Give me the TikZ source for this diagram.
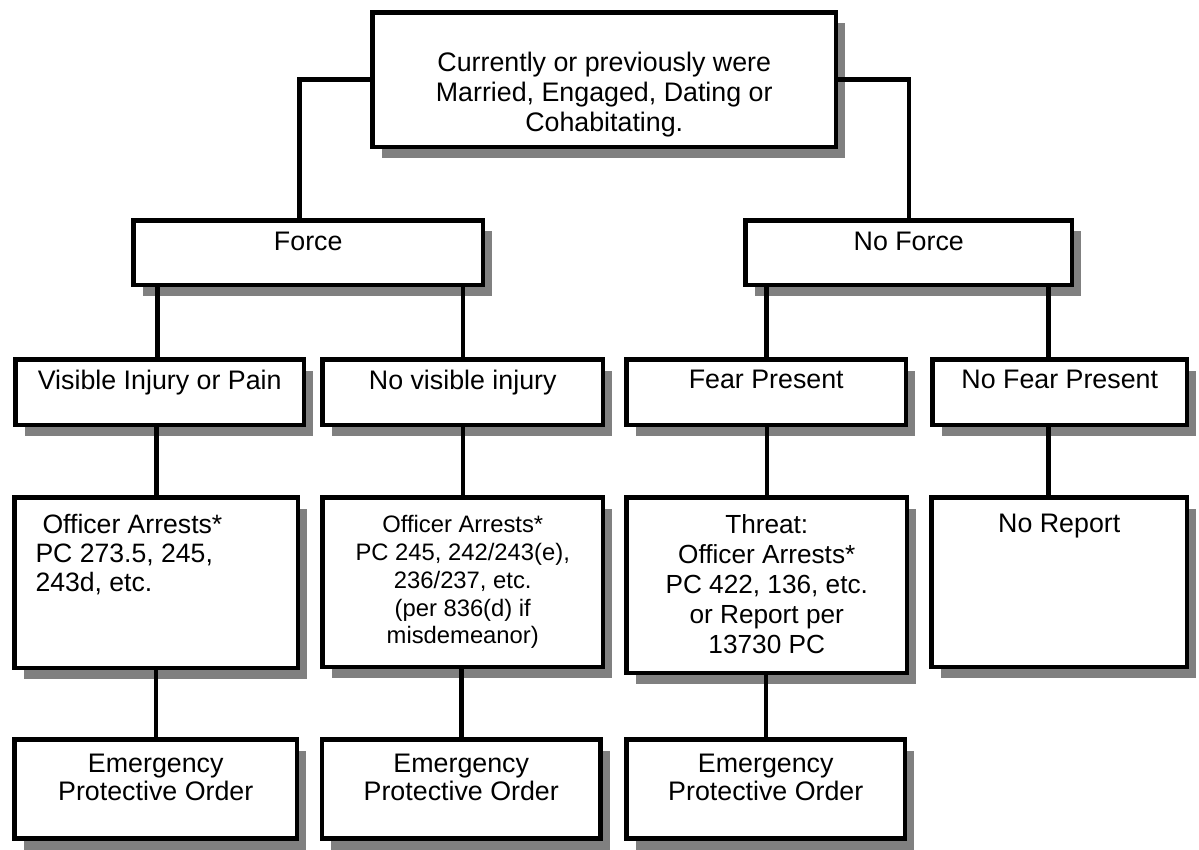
\documentclass[tikz,border=0pt]{standalone}
\usepackage{fontspec}
\setmainfont{Liberation Sans}
\usetikzlibrary{shadows}

\newlength{\du}
\setlength{\du}{0.5pt}
% width, height, top gap, text
\newcommand{\cellbox}[4]{\parbox[t][#2\du][t]{#1\du}{\centering\vspace*{#3\du}#4}}

\tikzset{
  chartbox/.style={draw, line width=2.25pt, fill=white, inner sep=0pt, anchor=north west,
    drop shadow={shadow xshift=4.5pt, shadow yshift=-5.5pt, fill=black!50, opacity=1},
    font=\fontsize{13.4}{15}\selectfont},
  link/.style={line width=2.25pt}
}

\begin{document}
\begin{tikzpicture}
\useasboundingbox (0,0) rectangle (1199\du,-850\du);
% relationship
\node[chartbox] (rel) at (370.25\du,-10.25\du) {\cellbox{463.5}{134.5}{40}{Currently or previously were\\Married, Engaged, Dating or\\Cohabitating.}};
\node[chartbox] (force) at (131.25\du,-218.25\du) {\cellbox{349.5}{64.5}{12}{Force}};
\node[chartbox] (noforce) at (743.25\du,-218.25\du) {\cellbox{326.5}{64.5}{12}{No Force}};
% injury / fear
\node[chartbox] (vis) at (13.25\du,-357.25\du) {\cellbox{288.5}{65.5}{11}{Visible Injury or Pain}};
\node[chartbox] (novis) at (320.25\du,-357.25\du) {\cellbox{280.5}{65.5}{11}{No visible injury}};
\node[chartbox] (fear) at (624.25\du,-357.25\du) {\cellbox{279.5}{65.5}{11}{Fear Present}};
\node[chartbox] (nofear) at (930.25\du,-357.25\du) {\cellbox{254.5}{65.5}{11}{No Fear Present}};
% officer action
\node[chartbox, font=\fontsize{13.3}{14.5}\selectfont] (arrA) at (12.25\du,-495.25\du) {\cellbox{283.5}{170.5}{17}{\raggedright\leftskip=21\du\hspace*{7\du}Officer Arrests*\\PC 273.5, 245,\\243d, etc.}};
\node[chartbox, font=\fontsize{11.9}{13.9}\selectfont] (arrB) at (320.25\du,-495.25\du) {\cellbox{280.5}{169.5}{18}{Officer Arrests*\\PC 245, 242/243(e),\\236/237, etc.\\(per 836(d) if\\misdemeanor)}};
\node[chartbox, font=\fontsize{13.1}{15}\selectfont] (threat) at (624.25\du,-495.25\du) {\cellbox{280.5}{175.5}{17}{Threat:\\Officer Arrests*\\PC 422, 136, etc.\\or Report per\\13730 PC}};
\node[chartbox] (noreport) at (929.25\du,-495.25\du) {\cellbox{255.5}{169.5}{17}{No Report}};
% protective orders
\node[chartbox, font=\fontsize{13.4}{14}\selectfont] (epoA) at (12.25\du,-737.25\du) {\cellbox{282.5}{99}{15}{Emergency\\Protective Order}};
\node[chartbox, font=\fontsize{13.4}{14}\selectfont] (epoB) at (319.75\du,-737.25\du) {\cellbox{278.5}{99}{15}{Emergency\\Protective Order}};
\node[chartbox, font=\fontsize{13.4}{14}\selectfont] (epoC) at (624.25\du,-737.25\du) {\cellbox{278.5}{99}{15}{Emergency\\Protective Order}};

\draw[link] (rel.west) -| ([xshift=-9\du]force.north);
\draw[link] (rel.east) -| (noforce.north);
\draw[link] ([xshift=-2.5\du]vis.north) -- ([xshift=-2.5\du]vis.north |- force.south);
\draw[link] (novis.north) -- (novis.north |- force.south);
\draw[link] (fear.north) -- (fear.north |- noforce.south);
\draw[link] ([xshift=-11.5\du]nofear.north) -- ([xshift=-11.5\du]nofear.north |- noforce.south);
\draw[link] (arrA.north) -- (arrA.north |- vis.south);
\draw[link] (arrB.north) -- (arrB.north |- novis.south);
\draw[link] (threat.north) -- (threat.north |- fear.south);
\draw[link] ([xshift=-11\du]noreport.north) -- ([xshift=-11\du]noreport.north |- nofear.south);
\draw[link] (epoA.north) -- (epoA.north |- arrA.south);
\draw[link] (epoB.north) -- (epoB.north |- arrB.south);
\draw[link] (epoC.north) -- (epoC.north |- threat.south);
\end{tikzpicture}
\end{document}
